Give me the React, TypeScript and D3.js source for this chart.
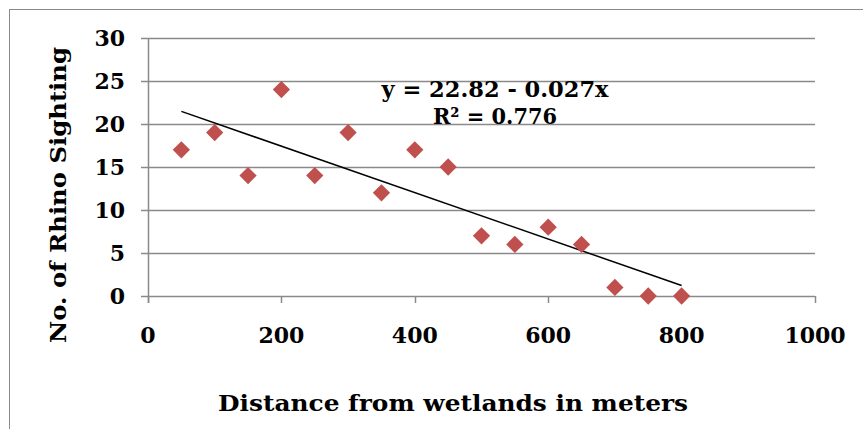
import { useEffect, useRef } from "react";
import * as d3 from "d3";

// distance from wetlands (m) and rhino sightings
const distances = [50, 100, 150, 200, 250, 300, 350, 400, 450, 500, 550, 600, 650, 700, 750, 800];
const sightings = [17, 19, 14, 24, 14, 19, 12, 17, 15, 7, 6, 8, 6, 1, 0, 0];

// linear trend as printed on the chart
const trendIntercept = 22.82;
const trendSlope = -0.027;
const trendRange = [50, 800];

const xTicks = [0, 200, 400, 600, 800, 1000];
const yTicks = [0, 5, 10, 15, 20, 25, 30];

const FONT = "'DejaVu Serif', serif";

const App = () => {
    const svgRef = useRef<SVGSVGElement>(null);

    useEffect(() => {
        const svg = d3.select(svgRef.current);
        svg.selectAll("*").remove();

        const plot = { left: 148, right: 815, top: 38, bottom: 296 };

        const x = d3.scaleLinear().domain([0, 1000]).range([plot.left, plot.right]);
        const y = d3.scaleLinear().domain([0, 30]).range([plot.bottom, plot.top]);

        // bold serif text helper
        const label = (sel: any, size: number) =>
            sel.style("font-family", FONT)
                .style("font-weight", "bold")
                .style("font-size", `${size}px`);

        // outer chart frame (cut off on right/bottom)
        svg.append("rect")
            .attr("x", 9.5).attr("y", 9.5)
            .attr("width", 900).attr("height", 460)
            .attr("fill", "none")
            .attr("stroke", "#8a8a8a")
            .attr("stroke-width", 1);

        // gridlines
        svg.append("g")
            .selectAll("line")
            .data(yTicks)
            .enter()
            .append("line")
            .attr("x1", plot.left - 7)
            .attr("x2", plot.right)
            .attr("y1", (d) => Math.round(y(d)) + 0.5)
            .attr("y2", (d) => Math.round(y(d)) + 0.5)
            .attr("stroke", "#8a8a8a")
            .attr("stroke-width", 1.5);

        // y axis line
        svg.append("line")
            .attr("x1", plot.left + 0.5).attr("x2", plot.left + 0.5)
            .attr("y1", plot.top).attr("y2", plot.bottom + 7)
            .attr("stroke", "#8a8a8a")
            .attr("stroke-width", 1.5);

        // x ticks
        svg.append("g")
            .selectAll("line")
            .data(xTicks)
            .enter()
            .append("line")
            .attr("x1", (d) => Math.round(x(d)) + 0.5)
            .attr("x2", (d) => Math.round(x(d)) + 0.5)
            .attr("y1", plot.bottom)
            .attr("y2", plot.bottom + 7)
            .attr("stroke", "#8a8a8a")
            .attr("stroke-width", 1.5);

        // y tick labels
        label(svg.append("g")
            .selectAll("text")
            .data(yTicks)
            .enter()
            .append("text")
            .attr("x", 125)
            .attr("y", (d) => y(d) + 8)
            .attr("text-anchor", "end"), 22)
            .text((d) => d);

        // x tick labels
        label(svg.append("g")
            .selectAll("text")
            .data(xTicks)
            .enter()
            .append("text")
            .attr("x", (d) => x(d))
            .attr("y", 343)
            .attr("text-anchor", "middle"), 22)
            .text((d) => d);

        // axis titles
        label(svg.append("text")
            .attr("x", 453)
            .attr("y", 411)
            .attr("text-anchor", "middle")
            .attr("textLength", 470)
            .attr("lengthAdjust", "spacingAndGlyphs"), 22)
            .text("Distance from wetlands in meters");

        label(svg.append("text")
            .attr("transform", "translate(66,195) rotate(-90)")
            .attr("text-anchor", "middle")
            .attr("textLength", 296)
            .attr("lengthAdjust", "spacingAndGlyphs"), 22)
            .text("No. of Rhino Sighting");

        // trendline
        const trend = trendRange.map((d) => [d, trendIntercept + trendSlope * d]);
        svg.append("path")
            .attr("d", d3.line()
                .x((d) => x(d[0]))
                .y((d) => y(d[1]))(trend as [number, number][]))
            .attr("fill", "none")
            .attr("stroke", "#000")
            .attr("stroke-width", 1.5);

        // markers
        const diamond = d3.symbol().type(d3.symbolDiamond2).size(190);
        svg.append("g")
            .selectAll("path")
            .data(distances)
            .enter()
            .append("path")
            .attr("transform", (d, i) => `translate(${x(d)},${y(sightings[i])})`)
            .attr("d", diamond)
            .attr("fill", "#c0504d");

        // equation label
        label(svg.append("text")
            .attr("x", 495)
            .attr("y", 97)
            .attr("text-anchor", "middle")
            .attr("textLength", 227)
            .attr("lengthAdjust", "spacingAndGlyphs"), 22)
            .text(`y = ${trendIntercept} - ${Math.abs(trendSlope)}x`);
        label(svg.append("text")
            .attr("x", 495)
            .attr("y", 124)
            .attr("text-anchor", "middle")
            .attr("textLength", 124)
            .attr("lengthAdjust", "spacingAndGlyphs"), 22)
            .text("R² = 0.776");
    }, []);

    return (
        <div style={{ position: "fixed", left: 0, top: 0, background: "#fff" }}>
            <svg ref={svgRef} width={863} height={429} style={{ display: "block" }}></svg>
        </div>
    );
};

export default App;
